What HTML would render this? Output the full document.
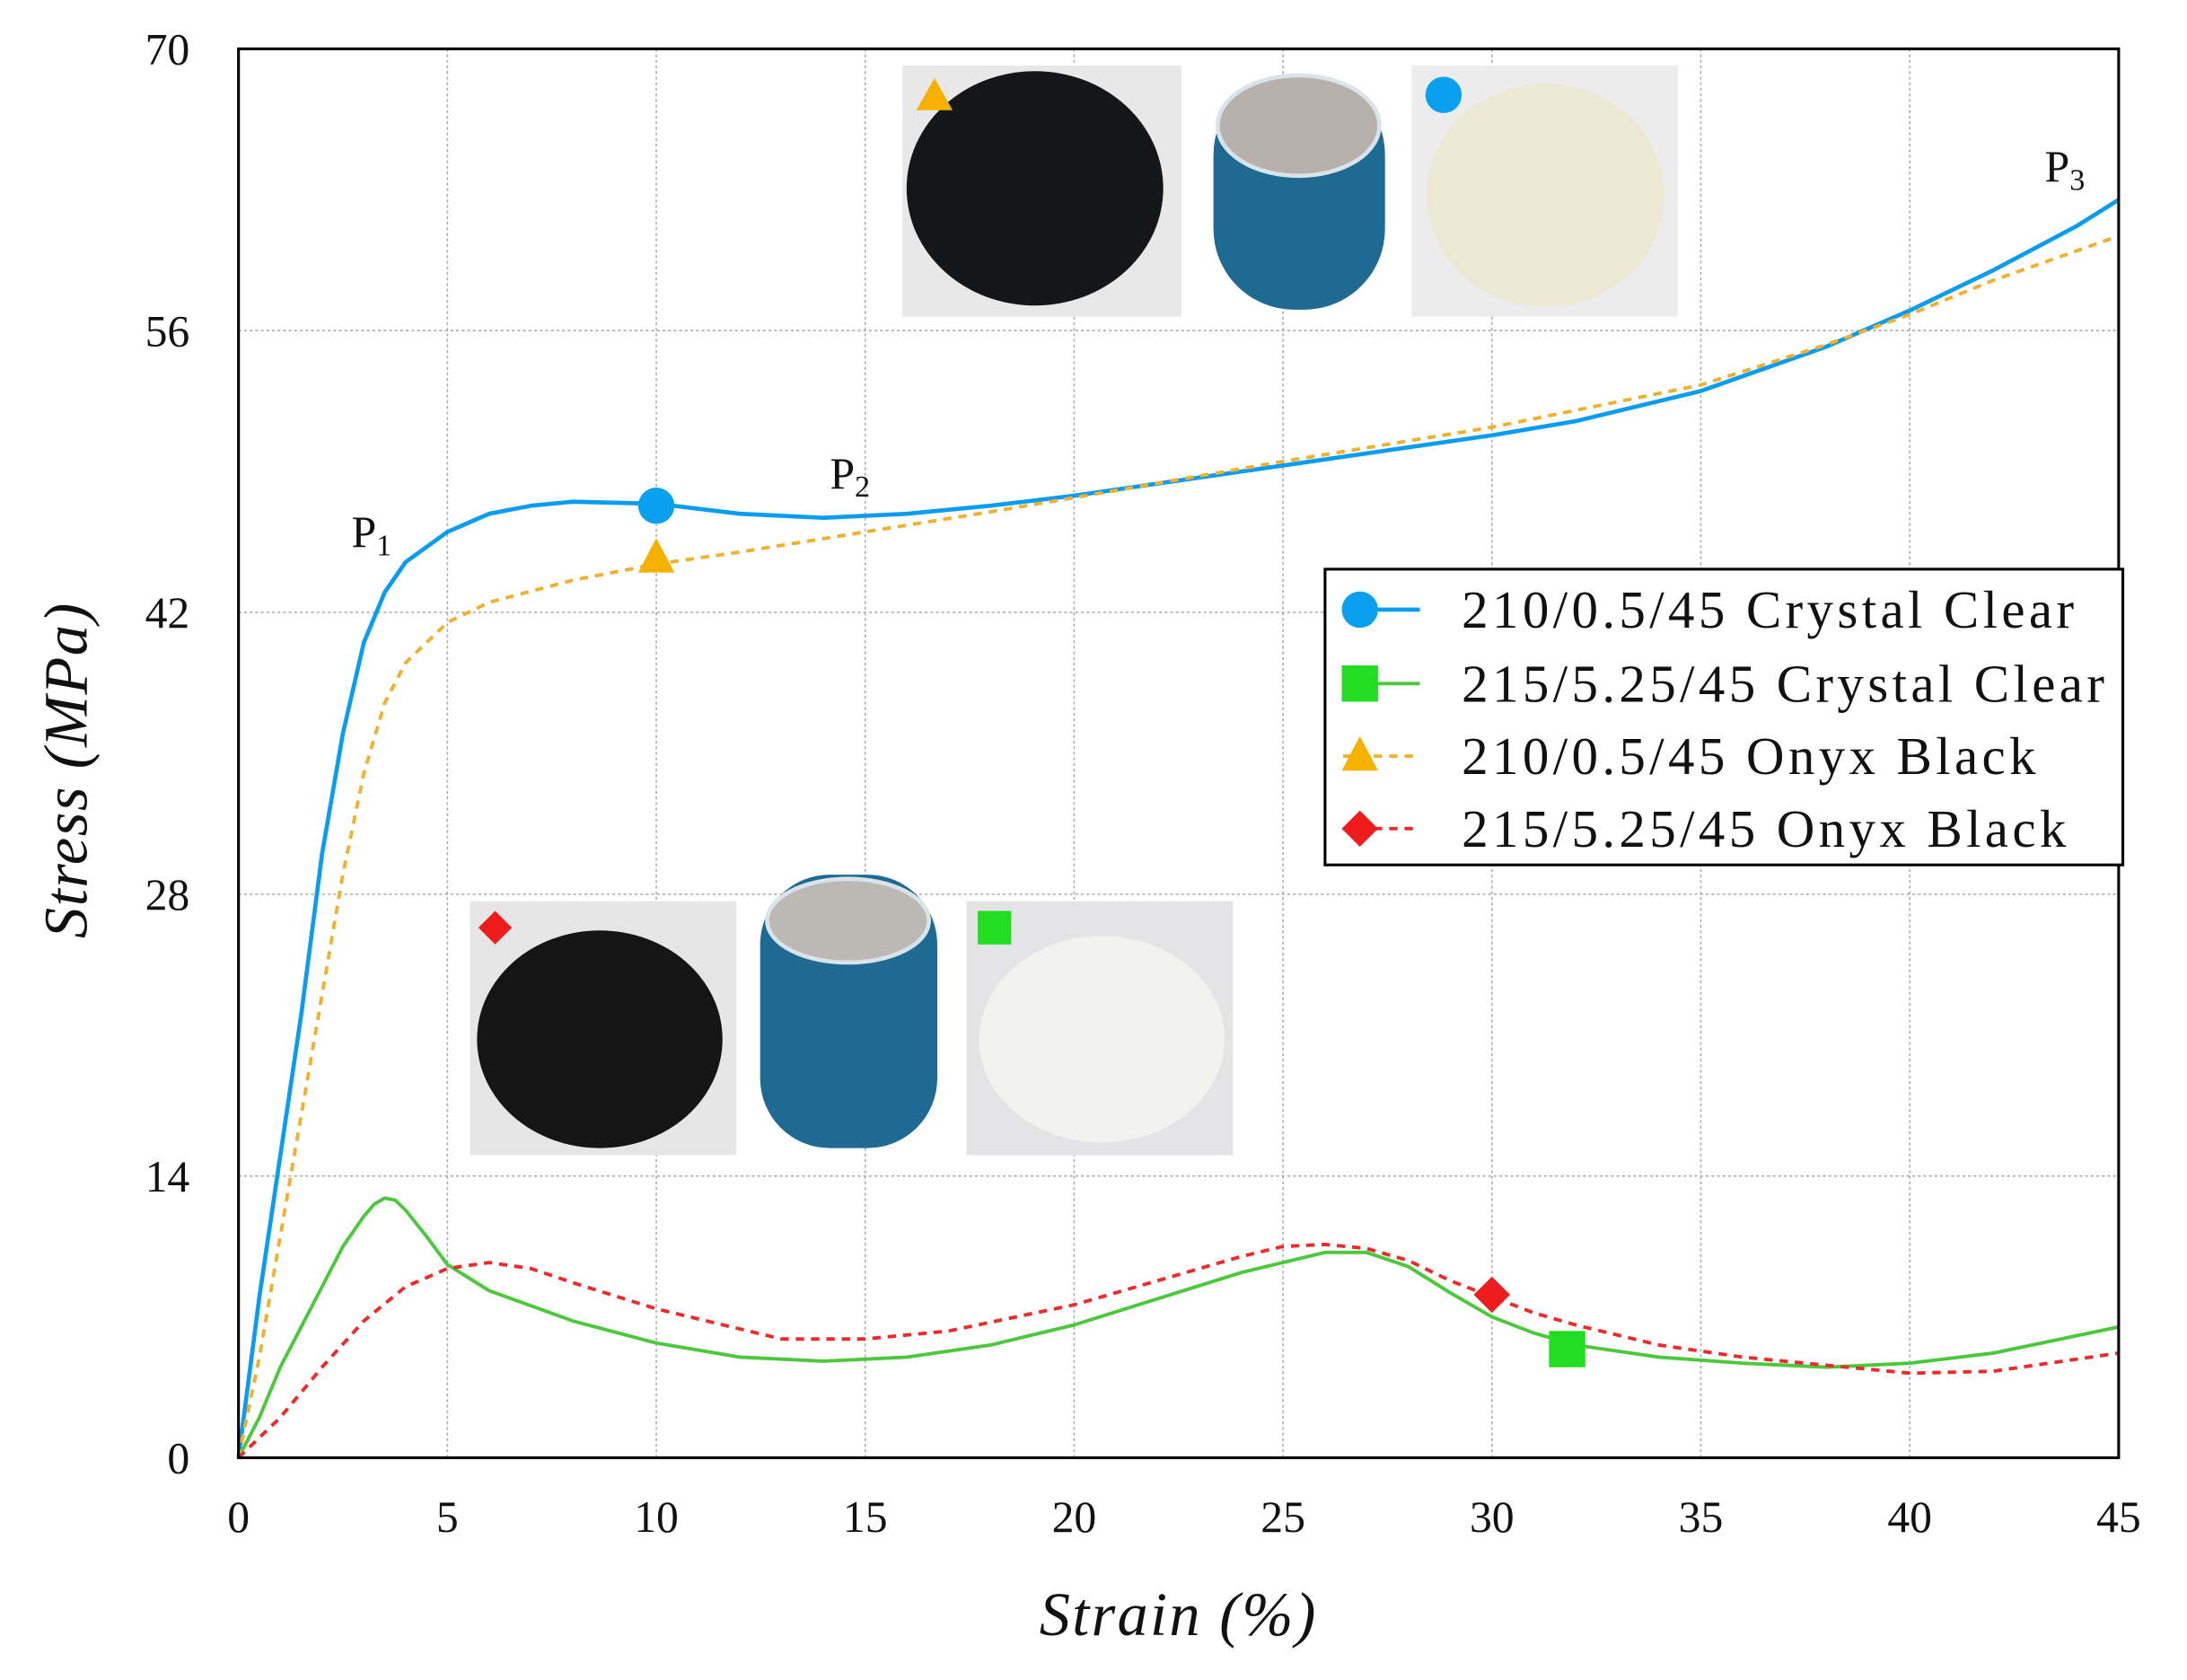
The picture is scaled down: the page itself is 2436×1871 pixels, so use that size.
<!DOCTYPE html>
<html><head><meta charset="utf-8"><style>
html,body{margin:0;padding:0;background:#fff;}
svg{display:block;}
text{font-family:"Liberation Serif",serif;fill:#111;}
</style></head><body>
<svg id="chart" width="2436" height="1871" viewBox="0 0 1568 1204.3" xmlns="http://www.w3.org/2000/svg">
<g id="grid"></g>
<g id="photos">
 <rect x="647" y="47" width="200" height="180" fill="#e8e8e8"/>
 <ellipse cx="742" cy="135" rx="92" ry="84" fill="#141618"/>
 <rect x="870" y="53" width="123" height="169" rx="58" fill="#1f6a93"/>
 <ellipse cx="931" cy="90" rx="58" ry="36" fill="#b8b0aa" stroke="#d8e4ea" stroke-width="3"/>
 <rect x="1012" y="47" width="191" height="180" fill="#ececec"/>
 <ellipse cx="1108" cy="140" rx="85" ry="80" fill="#ece8d4"/>
 <polygon points="670,56 683,79 657,79" fill="#f5b000"/>
 <circle cx="1035" cy="68" r="13" fill="#0aa0f0"/>
 <rect x="337" y="646" width="191" height="182" fill="#e6e6e6"/>
 <ellipse cx="430" cy="745" rx="88" ry="78" fill="#151515"/>
 <rect x="545" y="627" width="127" height="196" rx="50" fill="#1f6a93"/>
 <ellipse cx="608" cy="660" rx="58" ry="30" fill="#bcb8b4" stroke="#d8e4ea" stroke-width="3"/>
 <rect x="693" y="646" width="191" height="182" fill="#e4e4e6"/>
 <ellipse cx="790" cy="745" rx="88" ry="74" fill="#f2f2ef"/>
 <polygon points="355,653 367,665 355,677 343,665" fill="#ee1c1c"/>
 <rect x="701" y="653" width="24" height="24" fill="#22dd22"/>
</g>
<g id="series"></g>
<rect x="171" y="35" width="1348" height="1010" fill="none" stroke="#000" stroke-width="2"/>
<g id="ticks"></g>
<text x="252" y="392" font-size="32">P<tspan font-size="22" dy="6">1</tspan></text>
<text x="595" y="350" font-size="32">P<tspan font-size="22" dy="6">2</tspan></text>
<text x="1466" y="130" font-size="32">P<tspan font-size="22" dy="6">3</tspan></text>
<text x="845" y="1172" font-size="44" letter-spacing="1.5" font-style="italic" text-anchor="middle">Strain (%)</text>
<text transform="translate(62,552) rotate(-90)" font-size="44" letter-spacing="1" font-style="italic" text-anchor="middle">Stress (MPa)</text>
<g id="legend">
 <rect x="950" y="408" width="572" height="212" fill="#fff" stroke="#000" stroke-width="2"/>
</g>
</svg>
<script>
const xTicks=[0,5,10,15,20,25,30,35,40,45];
const yTicks=[0,14,28,42,56,70];
const seriesNames=["210/0.5/45 Crystal Clear","215/5.25/45 Crystal Clear","210/0.5/45 Onyx Black","215/5.25/45 Onyx Black"];
const blueX=[0,0.5,1,1.5,2,2.5,3,3.5,4,5,6,7,8,10,12,14,16,18,20,22,25,28,30,32,35,38,40,42,44,45];
const blueY=[0,8,15,22,30,36,40.5,43,44.5,46,46.9,47.3,47.5,47.4,46.9,46.7,46.9,47.3,47.8,48.4,49.3,50.2,50.8,51.5,53,55.2,57,59,61.2,62.5];
const orangeX=[0,0.5,1,1.5,2,2.5,3,3.5,4,5,6,8,10,12,15,18,20,25,30,35,38,40,42,45];
const orangeY=[0,5,11,17,23,29,34,37.5,39.5,41.5,42.5,43.6,44.4,45,46,47,47.7,49.5,51.2,53.3,55.3,56.8,58.5,60.7];
const greenX=[0,0.5,1,1.5,2,2.5,3,3.25,3.5,3.75,4,4.5,5,6,8,10,12,14,16,18,20,22,24,26,27,28,29,30,31,32,34,36,38,40,42,45];
const greenY=[0,2,4.5,6.5,8.5,10.5,12,12.6,12.9,12.8,12.3,11,9.6,8.3,6.8,5.7,5,4.8,5,5.6,6.6,7.9,9.2,10.2,10.2,9.5,8.2,7,6.2,5.6,5,4.7,4.5,4.7,5.2,6.5];
const redX=[0,1,2,3,4,5,6,7,8,10,12,13,15,17,20,22,24,25,26,27,28,29,30,31,32,34,36,38,40,42,45];
const redY=[0,2,4.5,6.8,8.5,9.4,9.7,9.4,8.7,7.4,6.4,5.9,5.9,6.3,7.6,8.8,10,10.5,10.6,10.4,9.8,8.8,8,7.2,6.6,5.6,5,4.6,4.2,4.3,5.2];
const markerX=[10,31.8,10,30];
const markerY=[47.3,5.4,44.7,8.1];
const NS="http://www.w3.org/2000/svg";
const sx=v=>171+v*(1348/45);
const sy=v=>1045-v*(1010/70);
function el(tag,attrs,parent){const e=document.createElementNS(NS,tag);for(const k in attrs)e.setAttribute(k,attrs[k]);parent.appendChild(e);return e;}
const grid=document.getElementById('grid'),ticks=document.getElementById('ticks');
xTicks.forEach(t=>{
 if(t>0&&t<45){const l=el('line',{x1:sx(t),x2:sx(t),y1:35,y2:1045,stroke:'#aaa','stroke-width':1,'stroke-dasharray':'2,2'},grid);
 
 }
 const tx=el('text',{x:sx(t),y:1098,'font-size':32,'text-anchor':'middle'},ticks);tx.textContent=t;
 
 
});
yTicks.forEach(t=>{
 if(t>0&&t<70){const l=el('line',{x1:171,x2:1519,y1:sy(t),y2:sy(t),stroke:'#aaa','stroke-width':1,'stroke-dasharray':'2,2'},grid);
 
 }
 const tx=el('text',{x:136,y:sy(t)+11,'font-size':32,'text-anchor':'end'},ticks);tx.textContent=t;
 
 
});
const ser=document.getElementById('series');
const cfg=[{xs:blueX,ys:blueY,c:'#0a9cf0',d:'',w:3,m:'circle'},{xs:greenX,ys:greenY,c:'#4cc83c',d:'',w:2.5,m:'square'},{xs:orangeX,ys:orangeY,c:'#f0b030',d:'6,5',w:2.5,m:'triangle'},{xs:redX,ys:redY,c:'#ee2a2a',d:'6,5',w:2.5,m:'diamond'}];
const mcol=['#0aa0f0','#22dd22','#f5b000','#ee1c1c'];
function marker(type,x,y,r,c,parent){
 if(type==='circle')return el('circle',{cx:x,cy:y,r:r,fill:c},parent);
 if(type==='square')return el('rect',{x:x-r,y:y-r,width:2*r,height:2*r,fill:c},parent);
 if(type==='triangle')return el('polygon',{points:`${x},${y-r*1.1} ${x+r},${y+r*0.8} ${x-r},${y+r*0.8}`,fill:c},parent);
 return el('polygon',{points:`${x},${y-r} ${x+r},${y} ${x},${y+r} ${x-r},${y}`,fill:c},parent);
}
cfg.forEach((s,i)=>{
 const pts=s.xs.map((x,j)=>sx(x)+','+sy(s.ys[j])).join(' ');
 const p=el('polyline',{points:pts,fill:'none',stroke:s.c,'stroke-width':s.w,'stroke-linejoin':'round'},ser);
 if(s.d)p.setAttribute('stroke-dasharray',s.d);
 
 
});
cfg.forEach((s,i)=>{
 const m=marker(s.m,sx(markerX[i]),sy(markerY[i]),13,mcol[i],ser);
 
 
});
const leg=document.getElementById('legend');
const ly=[437,490,542,594];
cfg.forEach((s,i)=>{
 const l=el('line',{x1:963,x2:1018,y1:ly[i],y2:ly[i],stroke:s.c,'stroke-width':s.w},leg);
 if(s.d)l.setAttribute('stroke-dasharray',s.d);
 
 
 const m=marker(s.m,975,ly[i],13,mcol[i],leg);
 
 
 const t=el('text',{x:1048,y:ly[i]+13,'font-size':38,'letter-spacing':2.8},leg);t.textContent=seriesNames[i];
 
 
});
</script>
</body></html>
